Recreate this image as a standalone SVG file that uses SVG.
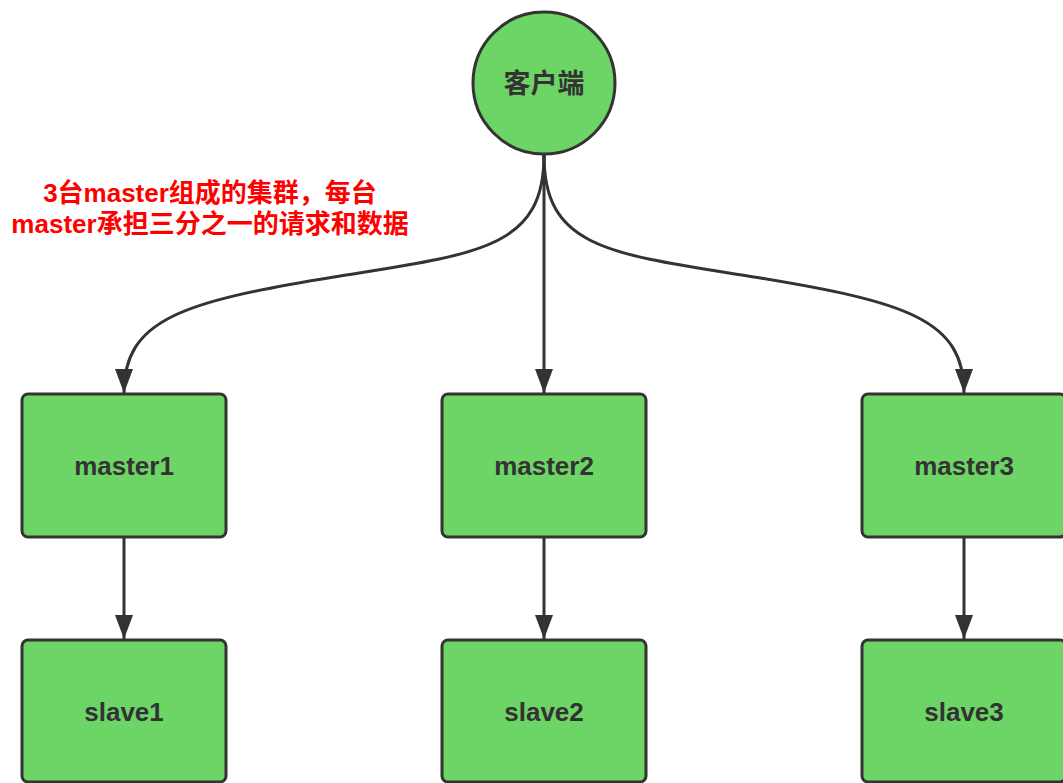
<svg xmlns="http://www.w3.org/2000/svg" width="1063" height="783" viewBox="0 0 1063 783">
<style>
.node{fill:#6dd466;stroke:#333333;stroke-width:3}
.lbl{font-family:"Liberation Sans","Noto Sans CJK SC",sans-serif;font-weight:bold;font-size:26px;fill:#333333;text-anchor:middle;dominant-baseline:central}
.edge{fill:none;stroke:#333333;stroke-width:3}
.note{font-family:"Liberation Sans","Noto Sans CJK SC",sans-serif;font-weight:bold;font-size:26px;fill:#ff0000;text-anchor:middle}
</style>
<defs>
<marker id="ah" viewBox="0 0 24 18" refX="24" refY="9" markerWidth="24" markerHeight="18" markerUnits="userSpaceOnUse" orient="auto">
<path d="M0,0 L24,9 L0,18 Z" fill="#333333"/>
</marker>
</defs>
<g id="connectors">
<path class="edge" d="M544 155 C544 248 480 254 334 277 C180 302 124 320 124 393" marker-end="url(#ah)"/>
<path class="edge" d="M544 155 L544 393" marker-end="url(#ah)"/>
<path class="edge" d="M544 155 C544 248 608 254 754 277 C908 302 964 320 964 393" marker-end="url(#ah)"/>
<path class="edge" d="M124 537 L124 639" marker-end="url(#ah)"/>
<path class="edge" d="M544 537 L544 639" marker-end="url(#ah)"/>
<path class="edge" d="M964 537 L964 639" marker-end="url(#ah)"/>
</g>
<g id="client">
<circle class="node" cx="544" cy="83" r="71"/>
<text class="lbl" x="544" y="84" style="font-size:27px">客户端</text>
</g>
<g id="master1"><rect class="node" x="22" y="394" width="204" height="143" rx="6"/><text class="lbl" x="124" y="466">master1</text></g>
<g id="master2"><rect class="node" x="442" y="394" width="204" height="143" rx="6"/><text class="lbl" x="544" y="466">master2</text></g>
<g id="master3"><rect class="node" x="862" y="394" width="204" height="143" rx="6"/><text class="lbl" x="964" y="466">master3</text></g>
<g id="slave1"><rect class="node" x="22" y="640" width="204" height="142" rx="6"/><text class="lbl" x="124" y="712">slave1</text></g>
<g id="slave2"><rect class="node" x="442" y="640" width="204" height="142" rx="6"/><text class="lbl" x="544" y="712">slave2</text></g>
<g id="slave3"><rect class="node" x="862" y="640" width="204" height="142" rx="6"/><text class="lbl" x="964" y="712">slave3</text></g>
<g id="note">
<text class="note" x="210" y="202">3台master组成的集群，每台</text>
<text class="note" x="210" y="233">master承担三分之一的请求和数据</text>
</g>
</svg>
